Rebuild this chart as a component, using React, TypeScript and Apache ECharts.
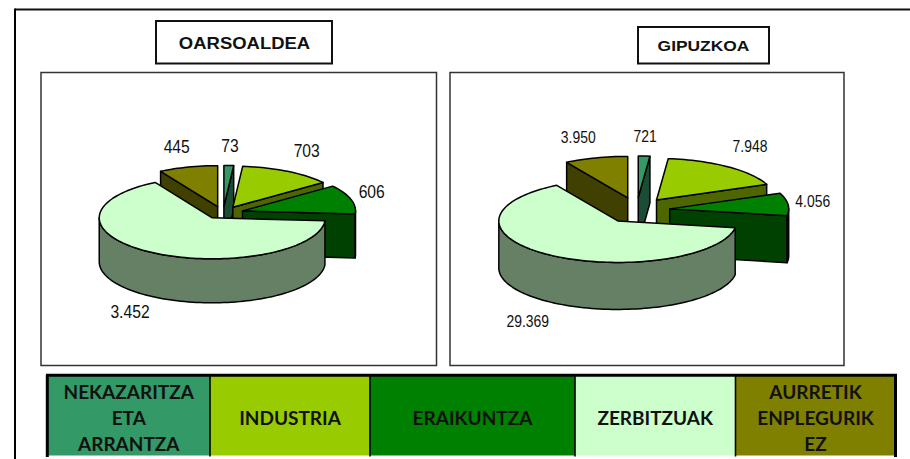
import React, { useEffect, useRef } from "react";
import * as echarts from "echarts";

// ---- data ----
const categories = ["NEKAZARITZA\nETA\nARRANTZA", "INDUSTRIA", "ERAIKUNTZA", "ZERBITZUAK", "AURRETIK\nENPLEGURIK\nEZ"];
const oarsoaldeaValues = [73, 703, 606, 3452, 445];
const gipuzkoaValues = [721, 7948, 4056, 29369, 3950];
const oarsoaldeaLabels = ["73", "703", "606", "3.452", "445"];
const gipuzkoaLabels = ["721", "7.948", "4.056", "29.369", "3.950"];
const panelTitles = ["OARSOALDEA", "GIPUZKOA"];

// ---- styling and layout ----
const topColors = ["#339966", "#99CC00", "#008000", "#CCFFCC", "#808000"];
const sideColors = ["#1A4D33", "#4D6600", "#004000", "#668066", "#404000"];
const paintOrder = [4, 0, 1, 2, 3];

const pieLayouts = [
  {
    cx: 223, cy: 212.6, rx: 113, ry: 41, depth: 44, ex: 0.18, ey: 0.15,
    font: '18px "Liberation Sans"', scaleX: 0.87,
    labelPos: [[230, 146], [306.7, 151], [371.7, 192.5], [130, 312.5], [176.7, 147]],
  },
  {
    cx: 636.6, cy: 210.3, rx: 119, ry: 41.5, depth: 47, ex: 0.28, ey: 0.31,
    font: '17px "Liberation Sans"', scaleX: 0.82,
    labelPos: [[645, 136], [750, 146], [812.7, 201], [527.7, 320.7], [578.3, 137]],
  },
];
const legendEdges = [47.5, 210, 370, 575, 735.5, 895.5];
const legendTop = 375.5;
const legendBottom = 455.5;

const rad = (d: number) => (d * Math.PI) / 180;

function sliceChildren(
  values: number[],
  labels: string[],
  layout: (typeof pieLayouts)[number],
  idx: number
) {
  const total = values.reduce((a, b) => a + b, 0);
  let cum = 0;
  for (let i = 0; i < idx; i++) cum += values[i];
  const a0 = (cum / total) * 360;
  const a1 = ((cum + values[idx]) / total) * 360;
  const mid = (a0 + a1) / 2;
  const ox = layout.cx + layout.ex * layout.rx * Math.sin(rad(mid));
  const oy = layout.cy - layout.ey * layout.ry * Math.cos(rad(mid));
  const pt = (a: number, dz = 0): number[] => [
    ox + layout.rx * Math.sin(rad(a)),
    oy - layout.ry * Math.cos(rad(a)) + dz,
  ];
  const arc = (from: number, to: number, dz = 0) => {
    const n = Math.max(2, Math.ceil(Math.abs(to - from) / 2));
    const pts: number[][] = [];
    for (let k = 0; k <= n; k++) pts.push(pt(from + ((to - from) * k) / n, dz));
    return pts;
  };
  const line = { stroke: "#000", lineWidth: 1.5, lineJoin: "round" };
  const side = { ...line, fill: sideColors[idx] };
  const kids: any[] = [];
  const d = layout.depth;
  const wall = (a: number) => ({
    type: "polygon",
    shape: { points: [[ox, oy], pt(a), pt(a, d), [ox, oy + d]] },
    style: side,
  });
  if (Math.sin(rad(a0)) < -1e-6) kids.push(wall(a0));
  if (Math.sin(rad(a1)) > 1e-6) kids.push(wall(a1));
  const f = Math.max(a0, 90);
  const t = Math.min(a1, 270);
  if (t > f) {
    kids.push({
      type: "polygon",
      shape: { points: [...arc(f, t), ...arc(t, f, d)] },
      style: side,
    });
  }
  kids.push({
    type: "polygon",
    shape: { points: [[ox, oy], ...arc(a0, a1)] },
    style: { ...line, fill: topColors[idx] },
  });
  const [lx, ly] = layout.labelPos[idx];
  kids.push({
    type: "text",
    x: lx,
    y: ly,
    scaleX: layout.scaleX,
    style: {
      text: labels[idx],
      font: layout.font,
      fill: "#111",
      align: "center",
      verticalAlign: "middle",
      textAlign: "center",
      textVerticalAlign: "middle",
    },
  });
  return kids;
}

function pieSeries(values: number[], labels: string[], layout: (typeof pieLayouts)[number], name: string) {
  return {
    type: "custom",
    name,
    coordinateSystem: "none",
    silent: true,
    data: paintOrder.map((i) => ({ name: categories[i], value: [values[i], i] })),
    renderItem: (_p: any, api: any) => ({
      type: "group",
      children: sliceChildren(values, labels, layout, api.value(1)),
    }),
  };
}

function frameGraphics() {
  const box = (x: number, y: number, w: number, h: number, lw: number, stroke = "#111") => ({
    type: "rect",
    shape: { x, y, width: w, height: h },
    style: { fill: "#fff", stroke, lineWidth: lw },
  });
  const seg = (x1: number, y1: number, x2: number, y2: number, lw: number, stroke = "#000") => ({
    type: "line",
    shape: { x1, y1, x2, y2 },
    style: { stroke, lineWidth: lw },
  });
  const title = (text: string, x: number, y: number, size: number, scaleX: number) => ({
    type: "text",
    x,
    y,
    scaleX,
    style: {
      text,
      font: `bold ${size}px "Liberation Sans"`,
      fill: "#111",
      align: "center",
      verticalAlign: "middle",
      textAlign: "center",
      textVerticalAlign: "middle",
    },
  });
  const els: any[] = [
    seg(15, 9.5, 910, 9.5, 2, "#111"),
    seg(15, 8.5, 15, 459, 2, "#000"),
    box(156, 21, 176, 42.5, 2),
    box(638, 27, 131, 36.5, 2),
    box(41, 72.5, 395.5, 293, 1.5, "#333"),
    box(450, 72.5, 394, 293, 1.5, "#333"),
    title(panelTitles[0], 244.5, 43, 16.5, 1.12),
    title(panelTitles[1], 703.5, 45.5, 15, 1.16),
  ];
  categories.forEach((c, i) => {
    els.push({
      type: "rect",
      shape: { x: legendEdges[i], y: legendTop, width: legendEdges[i + 1] - legendEdges[i], height: legendBottom - legendTop },
      style: { fill: topColors[i] },
    });
  });
  els.push(seg(46, 375.2, 897, 375.2, 3));
  els.push(seg(47.3, 375, 47.3, 457, 3));
  els.push(seg(895.5, 375, 895.5, 457, 3));
  legendEdges.slice(1, -1).forEach((x) => els.push(seg(x, 375, x, 456.5, 1.6)));
  categories.forEach((c, i) => {
    const lines = c.split("\n");
    const xc = (legendEdges[i] + legendEdges[i + 1]) / 2;
    lines.forEach((t, j) => {
      els.push({
        type: "text",
        x: xc,
        y: 417 + (j - (lines.length - 1) / 2) * 26,
        style: {
          text: t,
          font: 'bold 19px Lato',
          fill: "#111",
          align: "center",
          verticalAlign: "middle",
          textAlign: "center",
          textVerticalAlign: "middle",
        },
      });
    });
  });
  return els;
}

export default function App() {
  const ref = useRef<HTMLDivElement>(null);
  useEffect(() => {
    const chart = echarts.init(ref.current as HTMLDivElement, undefined, { renderer: "svg" });
    chart.setOption({
      animation: false,
      backgroundColor: "#fff",
      graphic: { elements: frameGraphics().map((e) => ({ ...e, z: 0 })) },
      series: [
        { ...pieSeries(oarsoaldeaValues, oarsoaldeaLabels, pieLayouts[0], panelTitles[0]), z: 5 },
        { ...pieSeries(gipuzkoaValues, gipuzkoaLabels, pieLayouts[1], panelTitles[1]), z: 5 },
      ],
    });
    return () => chart.dispose();
  }, []);
  return <div ref={ref} style={{ position: "fixed", left: 0, top: 0, width: 910, height: 459 }} />;
}
